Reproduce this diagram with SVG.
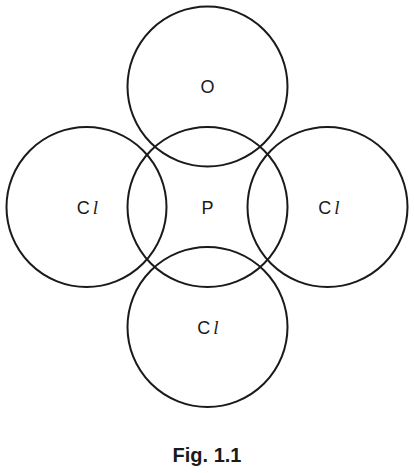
<svg xmlns="http://www.w3.org/2000/svg" width="414" height="473" viewBox="0 0 414 473">
<style>
.c{fill:none;stroke:#1a1a1a;stroke-width:2}
.t{font-family:"Liberation Sans",Arial,sans-serif;font-size:18px;fill:#1a1a1a;text-anchor:middle}
.i{font-family:"Liberation Serif","Times New Roman",serif;font-style:italic;font-size:19px}
.cap{font-family:"Liberation Sans",Arial,sans-serif;font-size:20px;font-weight:bold;fill:#1a1a1a;text-anchor:middle}
</style>
<rect width="414" height="473" fill="#fff"/>
<g id="node-O"><circle class="c" cx="207.5" cy="86.5" r="80"/><text class="t" x="207.5" y="93">O</text></g>
<g id="node-P"><circle class="c" cx="207.5" cy="207" r="80"/><text class="t" x="207.5" y="214">P</text></g>
<g id="node-Cl-left"><circle class="c" cx="86.5" cy="207" r="80"/><text class="t" x="87.5" y="214">C<tspan class="i" dx="3">l</tspan></text></g>
<g id="node-Cl-right"><circle class="c" cx="327.5" cy="207" r="80"/><text class="t" x="329" y="214">C<tspan class="i" dx="3">l</tspan></text></g>
<g id="node-Cl-bottom"><circle class="c" cx="207.5" cy="327" r="80"/><text class="t" x="208" y="334">C<tspan class="i" dx="3">l</tspan></text></g>
<g id="connectors"></g>
<text class="cap" x="207" y="462">Fig. 1.1</text>
</svg>
